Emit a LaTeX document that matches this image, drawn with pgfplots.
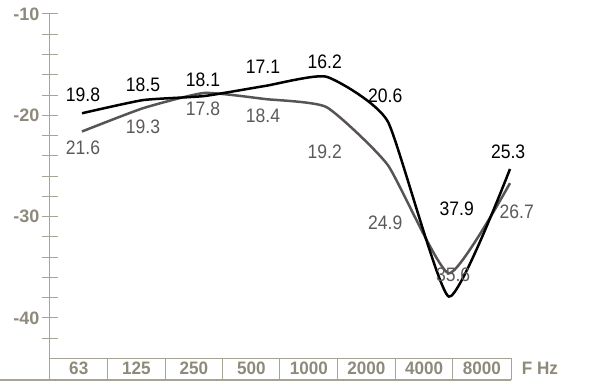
\documentclass[border=0pt]{standalone}
\usepackage{fontspec}
\setmainfont{Liberation Sans}
\newfontfamily\labfont{Liberation Sans}[FakeStretch=0.9]
\newfontfamily\boldfont{Liberation Sans}[UprightFont=* Bold, FakeStretch=0.95]
\newfontfamily\tickfont{Liberation Sans}[UprightFont=* Bold]
\usepackage{pgfplots}
\pgfplotsset{compat=1.18}
\definecolor{axgray}{HTML}{A8A495}
\definecolor{txtgray}{HTML}{8E8A7B}
\definecolor{linegray}{HTML}{595454}
\definecolor{labgray}{HTML}{5E5959}
\begin{document}
\begin{tikzpicture}
\begin{axis}[
 x=61.14pt, y=10.13pt,
 xmin=-0.5234, xmax=7.017, ymin=-46.15, ymax=-10,
 axis x line=none, axis y line*=left,
 axis line style={axgray, line width=1pt},
 xtick=\empty,
 ytick={-40,-30,-20,-10},
 yticklabels={-40,-30,-20,-10},
 minor ytick={-42,-38,-36,-34,-32,-28,-26,-24,-22,-18,-16,-14,-12},
 tick align=center, major tick length=16pt, minor tick length=16pt,
 every tick/.style={axgray, line width=1pt},
 yticklabel style={font=\tickfont\fontsize{18}{18}\selectfont, text=txtgray, anchor=east, xshift=1pt},
 clip=false,
]
\addplot[linegray, line width=2.5pt, smooth, tension=0.3] coordinates {(0,-21.6)(1,-19.3)(2,-17.8)(3,-18.4)(4,-19.2)(5,-24.9)(6,-35.6)(7,-26.7)};
\addplot[black, line width=2.5pt, smooth, tension=0.3] coordinates {(0,-19.8)(1,-18.5)(2,-18.1)(3,-17.1)(4,-16.2)(5,-20.6)(6,-37.9)(7,-25.3)};
% data labels
\begin{scope}[every node/.style={font=\labfont\fontsize{19.5}{20}\selectfont, inner sep=0pt}]
\node[text=black] at (axis cs:0.016,-18.0) {19.8};
\node[text=black] at (axis cs:0.998,-17.0) {18.5};
\node[text=black] at (axis cs:1.98,-16.52) {18.1};
\node[text=black] at (axis cs:2.96,-15.23) {17.1};
\node[text=black] at (axis cs:3.97,-14.74) {16.2};
\node[text=black] at (axis cs:4.96,-18.1) {20.6};
\node[text=black] at (axis cs:6.13,-29.25) {37.9};
\node[text=black] at (axis cs:6.97,-23.62) {25.3};
\node[text=labgray] at (axis cs:0.016,-23.23) {21.6};
\node[text=labgray] at (axis cs:0.998,-21.15) {19.3};
\node[text=labgray] at (axis cs:1.98,-19.38) {17.8};
\node[text=labgray] at (axis cs:2.96,-20.07) {18.4};
\node[text=labgray] at (axis cs:3.97,-23.62) {19.2};
\node[text=labgray] at (axis cs:4.96,-30.63) {24.9};
\node[text=labgray] at (axis cs:6.07,-35.77) {35.6};
\node[text=labgray] at (axis cs:7.11,-29.55) {26.7};
\end{scope}
% category boxes
\draw[axgray, line width=1pt] (axis cs:-0.5234,-44) -- (axis cs:7.017,-44);
\draw[axgray, line width=1pt] (axis cs:0.417,-44) -- (axis cs:0.417,-46.15);
\draw[axgray, line width=1pt] (axis cs:1.358,-44) -- (axis cs:1.358,-46.15);
\draw[axgray, line width=1pt] (axis cs:2.302,-44) -- (axis cs:2.302,-46.15);
\draw[axgray, line width=1pt] (axis cs:3.238,-44) -- (axis cs:3.238,-46.15);
\draw[axgray, line width=1pt] (axis cs:4.182,-44) -- (axis cs:4.182,-46.15);
\draw[axgray, line width=1pt] (axis cs:5.124,-44) -- (axis cs:5.124,-46.15);
\draw[axgray, line width=1pt] (axis cs:6.065,-44) -- (axis cs:6.065,-46.15);
\draw[axgray, line width=1pt] (axis cs:7.017,-44) -- (axis cs:7.017,-46.15);
\draw[axgray, line width=1.8pt] (axis cs:-1.341,-46.15) -- (axis cs:7.017,-46.15);
\begin{scope}[every node/.style={font=\boldfont\fontsize{18}{19}\selectfont, text=txtgray, inner sep=0pt}]
\node at (axis cs:-0.053,-45.01) {63};
\node at (axis cs:0.888,-45.01) {125};
\node at (axis cs:1.83,-45.01) {250};
\node at (axis cs:2.77,-45.01) {500};
\node at (axis cs:3.71,-45.01) {1000};
\node at (axis cs:4.653,-45.01) {2000};
\node at (axis cs:5.595,-45.01) {4000};
\node at (axis cs:6.541,-45.01) {8000};
\node at (axis cs:7.49,-45.01) {F Hz};
\end{scope}
\coordinate (bl) at (axis cs:-1.341,-46.43);
\coordinate (tr) at (axis cs:8.292,-8.62);
\end{axis}
\pgfresetboundingbox
\useasboundingbox (bl) rectangle (tr);
\end{tikzpicture}
\end{document}
